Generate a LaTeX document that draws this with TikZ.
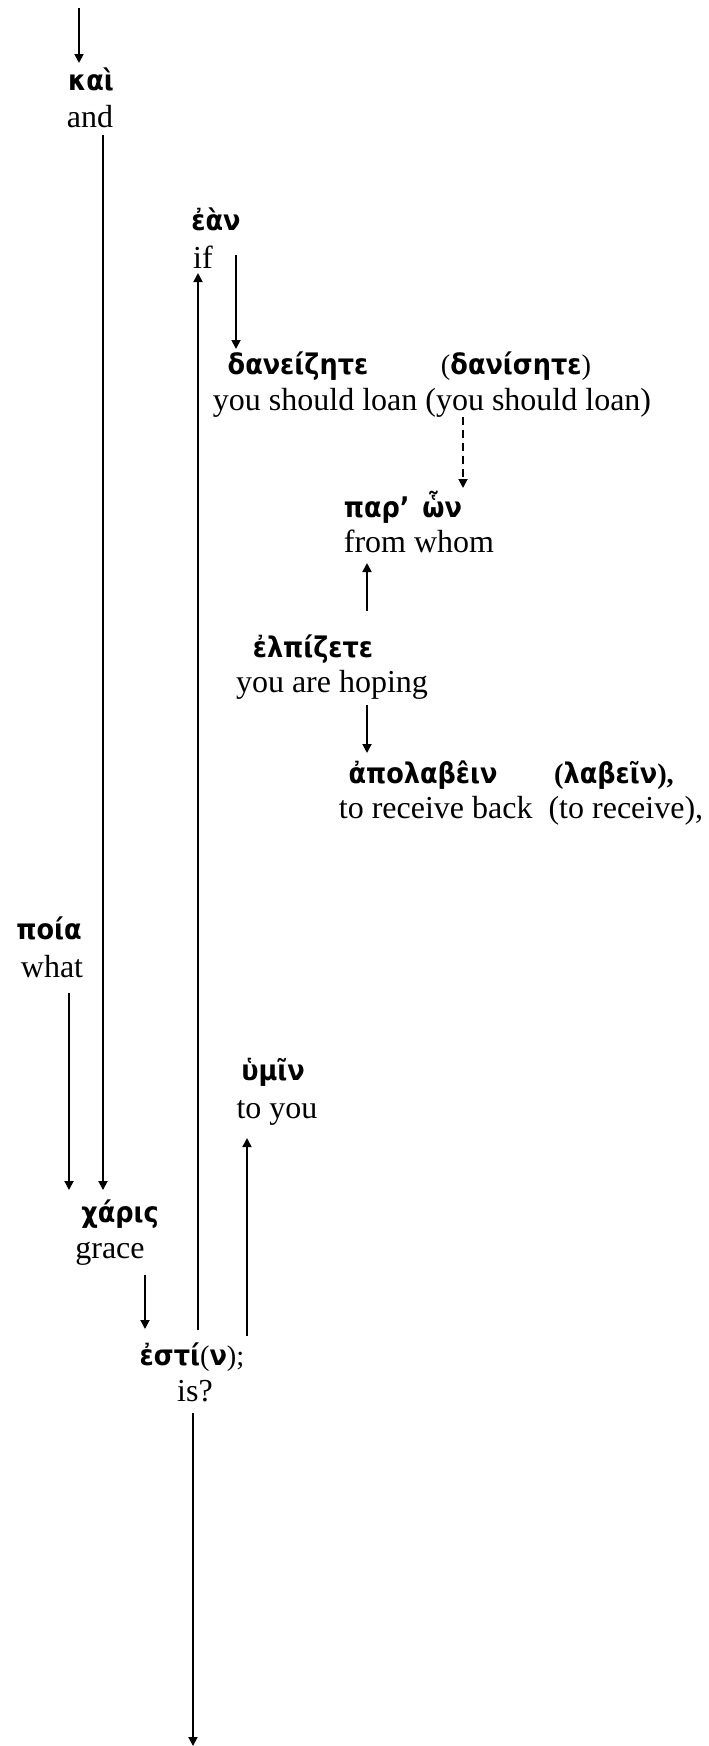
\documentclass[tikz,border=0pt]{standalone}
\usepackage{fontspec}
\setmainfont{Liberation Serif}
\newfontfamily\gk{DejaVu Sans Condensed}
\usetikzlibrary{arrows.meta,calc}
\tikzset{
  gr/.style={anchor=base, inner sep=0pt, font=\gk\bfseries\fontsize{14.2}{17}\selectfont},
  en/.style={anchor=base, inner sep=0pt, font=\fontsize{16}{19}\selectfont},
  arr/.style={line width=0.9pt, -{Triangle[length=4.5pt,width=4.5pt]}},
  dsh/.style={arr, dash pattern=on 4pt off 2.5pt},
}
\begin{document}
\begin{tikzpicture}[x=0.5pt,y=-0.5pt]
\useasboundingbox (0,0) rectangle (708,1746);
% columns
\coordinate (c69) at (69,0);
\coordinate (c79) at (79,0);
\coordinate (c103) at (103,0);
\coordinate (c145) at (145,0);
\coordinate (c193) at (193,0);
\coordinate (c198) at (198,0);
\coordinate (c236) at (236,0);
\coordinate (c247) at (247,0);
\coordinate (c367) at (367,0);
\coordinate (c463) at (463,0);
% words
\node[gr] (kai) at (91,90) {καὶ};
\node[en] (and) at (90,127) {and};
\node[gr] (ean) at (216,230) {ἐὰν};
\node[en] (if) at (203,268) {if};
\node[gr] (danei) at (298,374) {δανείζητε};
\node[gr] (danis) at (516,374) {{\rmfamily\mdseries(}δανίσητε{\rmfamily\mdseries)}};
\node[en] (loan) at (432,410) {you should loan (you should loan)};
\node[gr] (par) at (403,517) {παρ’\hspace{0.45em}ὧν};
\node[en] (whom) at (419,552) {from whom};
\node[gr] (elp) at (313,657) {ἐλπίζετε};
\node[en] (hoping) at (332,692) {you are hoping};
\node[gr] (apol) at (423,783) {ἀπολαβε̂ιν};
\node[gr] (lab) at (614,783) {{\rmfamily(}λαβεῖν{\rmfamily),}};
\node[en] (receive) at (521,818) {to receive back\ \ (to receive),};
\node[gr] (poia) at (49,939) {ποία};
\node[en] (what) at (52,977) {what};
\node[gr] (hymin) at (273,1080) {ὑμῖν};
\node[en] (toyou) at (277,1118) {to you};
\node[gr] (charis) at (120,1222) {χάρις};
\node[en] (grace) at (110,1258) {grace};
\node[gr] (esti) at (192,1365) {ἐστί{\rmfamily\mdseries(}ν{\rmfamily\mdseries);}};
\node[en] (is) at (195,1401) {is?};
% free ends
\coordinate (start) at (79,8);
\coordinate (finish) at (193,1746);
% connectors
\draw[arr] (start) -- ($(kai.base -| c79)+(0,-27)$);
\draw[arr] ($(and.base -| c103)+(0,8)$) -- ($(charis.base -| c103)+(0,-32)$);
\draw[arr] ($(what.base -| c69)+(0,16)$) -- ($(charis.base -| c69)+(0,-32)$);
\draw[arr] ($(grace.base -| c145)+(0,17)$) -- ($(esti.base -| c145)+(0,-36)$);
\draw[arr] ($(esti.base -| c198)+(0,-35)$) -- ($(if.base -| c198)+(0,5)$);
\draw[arr] ($(esti.base -| c247)+(0,-29)$) -- ($(toyou.base -| c247)+(0,20)$);
\draw[arr] ($(is.base -| c193)+(0,12)$) -- (finish);
\draw[arr] ($(if.base -| c236)+(0,-13)$) -- ($(danei.base -| c236)+(0,-25)$);
\draw[dsh] ($(loan.base -| c463)+(0,7)$) -- ($(par.base -| c463)+(0,-29)$);
\draw[arr] ($(elp.base -| c367)+(0,-46)$) -- ($(whom.base -| c367)+(0,11)$);
\draw[arr] ($(hoping.base -| c367)+(0,13)$) -- ($(apol.base -| c367)+(0,-30)$);
\end{tikzpicture}
\end{document}
